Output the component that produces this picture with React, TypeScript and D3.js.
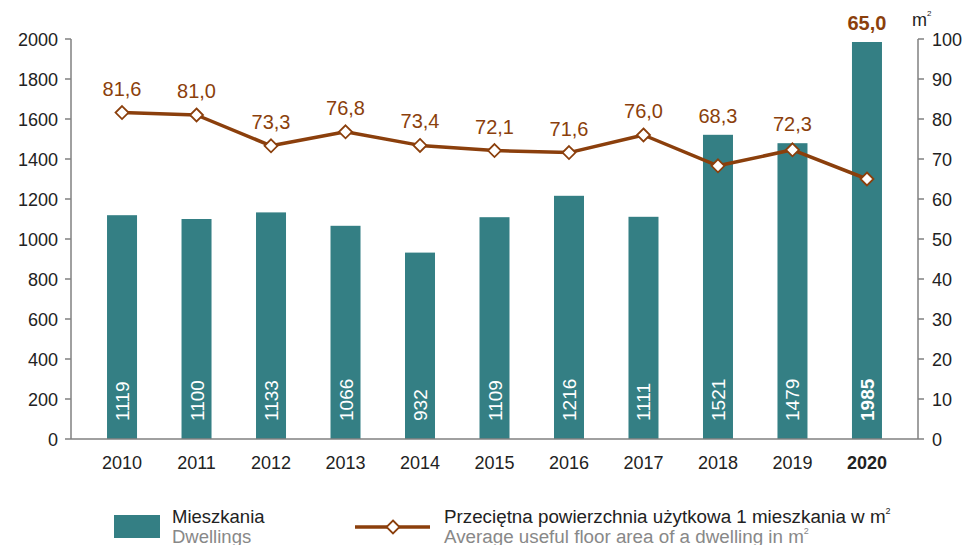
import React from "react";
import * as d3 from "d3";

const years = ["2010", "2011", "2012", "2013", "2014", "2015", "2016", "2017", "2018", "2019", "2020"];
const dwellings = [1119, 1100, 1133, 1066, 932, 1109, 1216, 1111, 1521, 1479, 1985];
const avgArea = [81.6, 81.0, 73.3, 76.8, 73.4, 72.1, 71.6, 76.0, 68.3, 72.3, 65.0];
const leftTicks = [0, 200, 400, 600, 800, 1000, 1200, 1400, 1600, 1800, 2000];
const rightTicks = [0, 10, 20, 30, 40, 50, 60, 70, 80, 90, 100];

const W = 967, H = 545;
const L = 71, R = 918, T = 39, B = 439;
const TEAL = "#347F84";
const BROWN = "#8B3F0C";
const AXIS = "#808080";
const FONT = "'Liberation Sans', Arial, sans-serif";

export default function App() {
  const x = d3.scalePoint<string>().domain(years).range([L, R]).padding(0.685);
  const yL = d3.scaleLinear().domain([0, 2000]).range([B, T]);
  const yR = d3.scaleLinear().domain([0, 100]).range([B, T]);
  const line = d3.line<number>().x((_, i) => x(years[i])!).y((d) => yR(d));
  const fmt = (v: number) => v.toFixed(1).replace(".", ",");
  const bw = 30;
  const diamond = (cx: number, cy: number, r: number) =>
    `M${cx},${cy - r}L${cx + r},${cy}L${cx},${cy + r}L${cx - r},${cy}Z`;
  const last = years.length - 1;

  return (
    <svg width={W} height={H} style={{ position: "absolute", left: 0, top: 0, fontFamily: FONT }}>
      <rect width={W} height={H} fill="#fff" />
      {/* bars */}
      {dwellings.map((d, i) => (
        <rect key={i} x={x(years[i])! - bw / 2} y={yL(d)} width={bw} height={B - yL(d)} fill={TEAL} />
      ))}
      {/* bar labels */}
      {dwellings.map((d, i) => {
        const cx = x(years[i])!;
        return (
          <text key={i} transform={`translate(${cx + 7},${B - 18}) rotate(-90)`} fill="#fff" fontSize={19}
            fontWeight={i === last ? "bold" : "normal"}>
            {d}
          </text>
        );
      })}
      {/* left axis */}
      <line x1={L} x2={L} y1={T} y2={B} stroke={AXIS} strokeWidth={1.5} />
      {leftTicks.map((t) => (
        <g key={t}>
          <line x1={L - 6} x2={L} y1={yL(t)} y2={yL(t)} stroke={AXIS} strokeWidth={1.5} />
          <text x={L - 13} y={yL(t) + 6.5} textAnchor="end" fontSize={18} fill="#222">{t}</text>
        </g>
      ))}
      {/* right axis */}
      <line x1={R} x2={R} y1={T} y2={B} stroke={AXIS} strokeWidth={1.5} />
      {rightTicks.map((t) => (
        <g key={t}>
          <line x1={R} x2={R + 6} y1={yR(t)} y2={yR(t)} stroke={AXIS} strokeWidth={1.5} />
          <text x={R + 14} y={yR(t) + 6.5} textAnchor="start" fontSize={18} fill="#222">{t}</text>
        </g>
      ))}
      <text x={912} y={26} fontSize={18} fill="#222">m<tspan fontSize={8} dy={-10}>2</tspan></text>
      {/* bottom axis */}
      <line x1={L} x2={R} y1={B} y2={B} stroke={AXIS} strokeWidth={1.5} />
      {years.map((y, i) => (
        <text key={y} x={x(y)!} y={469} textAnchor="middle" fontSize={18} fill="#222"
          fontWeight={i === last ? "bold" : "normal"}>
          {y}
        </text>
      ))}
      {/* line */}
      <path d={line(avgArea)!} fill="none" stroke={BROWN} strokeWidth={3.5} strokeLinejoin="round" />
      {avgArea.map((v, i) => (
        <path key={i} d={diamond(x(years[i])!, yR(v), 6.5)} fill="#fff" stroke={BROWN} strokeWidth={1.8} />
      ))}
      {avgArea.map((v, i) => {
        const cx = x(years[i])!;
        const ly = Math.min(yR(v) - 17, yL(dwellings[i]) - 12);
        return (
          <text key={i} x={cx} y={ly} textAnchor="middle" fontSize={20} fill={BROWN}
            fontWeight={i === last ? "bold" : "normal"}>
            {fmt(v)}
          </text>
        );
      })}
      {/* legend */}
      <rect x={114} y={515} width={46} height={23} fill={TEAL} />
      <text x={172} y={523} fontSize={18.5} fill="#222">Mieszkania</text>
      <text x={172} y={543} fontSize={18.5} fill="#888">Dwellings</text>
      <line x1={355} x2={430} y1={527} y2={527} stroke={BROWN} strokeWidth={3.5} />
      <path d={diamond(393, 527, 6.5)} fill="#fff" stroke={BROWN} strokeWidth={1.8} />
      <text x={444} y={523} fontSize={18.8} fill="#222">
        Przeciętna powierzchnia użytkowa 1 mieszkania w m<tspan fontSize={9} dy={-9}>2</tspan>
      </text>
      <text x={444} y={543} fontSize={18.8} fill="#888">
        Average useful floor area of a dwelling in m<tspan fontSize={9} dy={-9}>2</tspan>
      </text>
    </svg>
  );
}
